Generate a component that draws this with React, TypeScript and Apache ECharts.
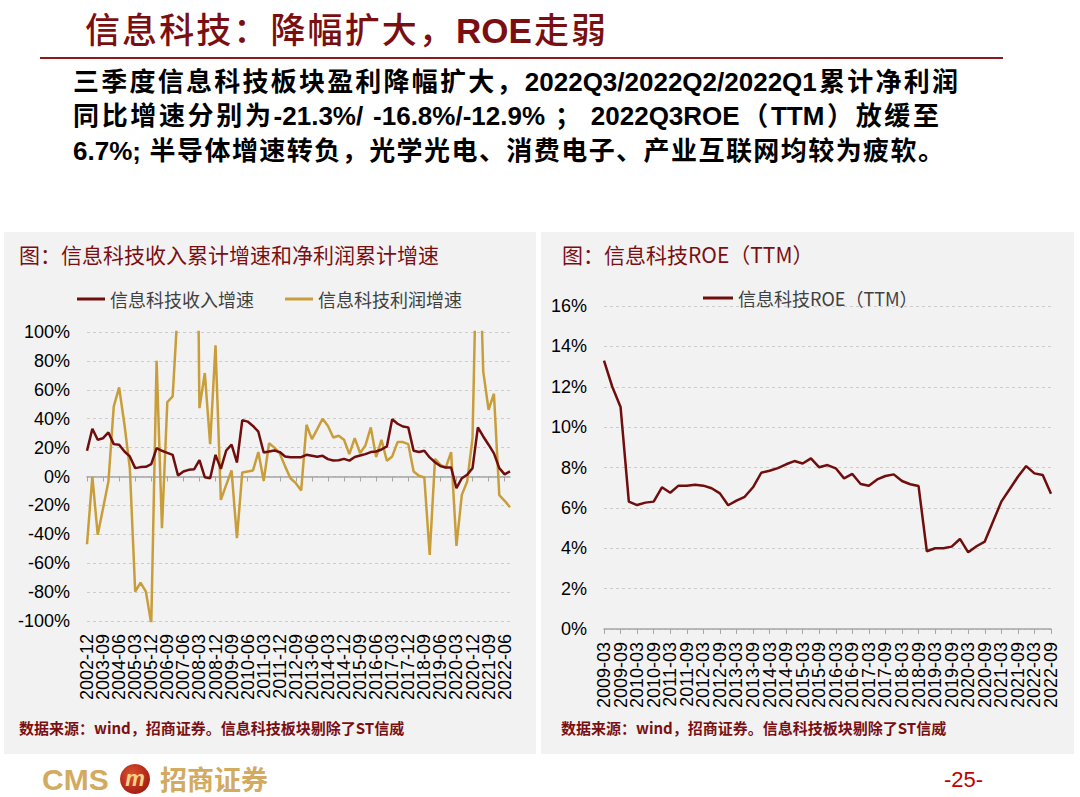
import React, { useEffect, useRef } from "react";
import * as echarts from "echarts";

// ---------- data ----------
function quarterLabels(startYear: number, startMonth: number, count: number): string[] {
  const out: string[] = [];
  let y = startYear;
  let m = startMonth;
  for (let i = 0; i < count; i++) {
    out.push(`${y}-${m < 10 ? "0" + m : m}`);
    m += 3;
    if (m > 12) {
      m -= 12;
      y += 1;
    }
  }
  return out;
}

const growthCategories = quarterLabels(2002, 12, 80);
const roeCategories = quarterLabels(2009, 3, 55);
const GROWTH_LABEL_STEP = 3;
const ROE_LABEL_STEP = 2;

const revenueGrowth = [
  17.8, 33, 25.4, 26.5, 30.5, 22.4, 22, 17.3, 13.9, 5.8,
  6.5, 6.7, 8.5, 19.6, 17.8, 16.4, 15, 0.7, 3.5, 4.6,
  5, 11.3, -0.5, -1.2, 15, 5.3, 18, 22, 9.7, 39,
  38, 35, 31, 16.6, 17.3, 18, 16.9, 13.9, 13.4, 13.4,
  13.4, 15, 14.3, 13.6, 14.3, 12, 11.1, 11.3, 12.2, 11,
  13.5, 14.5, 15.5, 16.9, 17.3, 18.7, 20.8, 39.7, 36.5, 34.6,
  34, 17.8, 16.9, 17.8, 13.2, 9.9, 7.2, 6.2, 6.2, -8,
  -1.2, 1.2, 5.8, 34, 27.7, 22, 16, 5.8, 1.5, 3.5,
];

const profitGrowth = [
  -46.9, 0, -40.4, -22, -3.5, 48.5, 61.7, 35.8, 5.8, -79.7,
  -73.4, -79.7, -102, 80, -35.8, 51.5, 55.4, 120, 180, 250,
  400, 47.3, 71.6, 22.4, 90.8, -16.2, -5.8, 4.2, -42.7, 2.8,
  3.5, 4.2, 16.9, -3, 23, 20, 16, 7, -1.2, -4.6,
  -9.7, 35.8, 25.9, 32.8, 40, 35, 27, 28.2, 25.4, 15.5,
  26.6, 16.2, 21.5, 34, 13.4, 25.4, 10.9, 13.9, 23.8, 23.8,
  22.4, 3.5, 0.5, -0.7, -54.3, 12.2, 8.1, 6.2, 16.9, -48,
  -12.7, -3.5, 26.6, 200, 72.7, 46.2, 57.3, -12.9, -16.8, -21.3,
];

const roeTTM = [
  13.3, 12.0, 11.0, 6.31, 6.14, 6.26, 6.31, 7.02, 6.75, 7.1,
  7.1, 7.15, 7.1, 6.97, 6.72, 6.13, 6.36, 6.55, 7.02, 7.74,
  7.84, 7.97, 8.16, 8.32, 8.2, 8.45, 8.01, 8.12, 7.96, 7.46,
  7.68, 7.18, 7.1, 7.41, 7.58, 7.66, 7.33, 7.17, 7.08, 3.85,
  4.0, 4.0, 4.08, 4.46, 3.8, 4.1, 4.33, 5.32, 6.31, 6.92,
  7.54, 8.07, 7.71, 7.63, 6.7,
];

const SERIES_REV = "信息科技收入增速";
const SERIES_PROFIT = "信息科技利润增速";
const SERIES_ROE = "信息科技ROE（TTM）";

const TITLE_MAIN = "信息科技：降幅扩大，";
const TITLE_ROE = "ROE";
const TITLE_END = "走弱";
const PARA_LINES = [
  "三季度信息科技板块盈利降幅扩大，2022Q3/2022Q2/2022Q1累计净利润",
  "同比增速分别为-21.3%/ -16.8%/-12.9% ； 2022Q3ROE（TTM）放缓至",
  "6.7%; 半导体增速转负，光学光电、消费电子、产业互联网均较为疲软。",
];
const LEFT_TITLE = "图：信息科技收入累计增速和净利润累计增速";
const RIGHT_TITLE = "图：信息科技ROE（TTM）";
const SOURCE_TEXT = "数据来源：wind，招商证券。信息科技板块剔除了ST信威";

// ---------- styles ----------
const DARK_RED = "#7A0F12";
const REV_COLOR = "#700D0D";
const PROFIT_COLOR = "#C99E3A";
const GOLD = "#D2AA62";
const LATIN = "'Liberation Sans', Arial, 'Noto Sans CJK SC', sans-serif";
const CJK = "'Noto Sans CJK SC', 'Liberation Sans', sans-serif";

const axisLabelStyle = {
  fontSize: 18,
  color: "#000",
  fontFamily: LATIN,
};

export default function App() {
  const ref = useRef<HTMLDivElement>(null);

  useEffect(() => {
    if (!ref.current) return;
    const chart = echarts.init(ref.current, undefined, { renderer: "svg" });

    const option: any = {
      animation: false,
      textStyle: { fontFamily: LATIN },
      graphic: [
        {
          type: "rect",
          z: -100,
          shape: { x: 4, y: 232, width: 532, height: 522 },
          style: { fill: "#F2F2F2" },
        },
        {
          type: "rect",
          z: -100,
          shape: { x: 541, y: 232, width: 533, height: 522 },
          style: { fill: "#F2F2F2" },
        },
        {
          type: "text",
          x: 19,
          y: 254,
          style: { text: LEFT_TITLE, font: `21px ${CJK}`, fill: DARK_RED, verticalAlign: "middle" },
        },
        {
          type: "text",
          x: 562,
          y: 254,
          style: { text: RIGHT_TITLE, font: `21px ${CJK}`, fill: DARK_RED, verticalAlign: "middle" },
        },
        {
          type: "text",
          x: 19,
          y: 727,
          style: { text: SOURCE_TEXT, font: `bold 15px ${CJK}`, fill: DARK_RED, verticalAlign: "middle" },
        },
        {
          type: "text",
          x: 561,
          y: 727,
          style: { text: SOURCE_TEXT, font: `bold 15px ${CJK}`, fill: DARK_RED, verticalAlign: "middle" },
        },
        {
          type: "text",
          x: 42,
          y: 779,
          style: { text: "CMS", font: `bold 30px ${LATIN}`, fill: GOLD, verticalAlign: "middle" },
        },
        {
          type: "circle",
          shape: { cx: 135, cy: 779, r: 15 },
          style: {
            fill: new echarts.graphic.RadialGradient(0.4, 0.35, 0.7, [
              { offset: 0, color: "#E0502E" },
              { offset: 1, color: "#9E1A12" },
            ]),
          },
        },
        {
          type: "text",
          x: 135,
          y: 778,
          style: {
            text: "m",
            font: `italic bold 22px ${LATIN}`,
            fill: "#F3D48A",
            align: "center",
            verticalAlign: "middle",
          },
        },
        {
          type: "text",
          x: 160,
          y: 778,
          style: { text: "招商证券", font: `bold 27px ${CJK}`, fill: GOLD, verticalAlign: "middle" },
        },
        {
          type: "text",
          x: 944,
          y: 779,
          style: { text: "-25-", font: `22px ${LATIN}`, fill: "#C00000", verticalAlign: "middle" },
        },
      ],
      legend: [
        {
          left: 77,
          top: 290,
          padding: 0,
          icon: "rect",
          itemWidth: 28,
          itemHeight: 3,
          itemGap: 31,
          data: [SERIES_REV, SERIES_PROFIT],
          textStyle: { fontSize: 18, color: "#404040", fontFamily: CJK },
        },
        {
          left: 703,
          top: 289,
          padding: 0,
          icon: "rect",
          itemWidth: 30,
          itemHeight: 3,
          data: [SERIES_ROE],
          textStyle: { fontSize: 18, color: "#404040", fontFamily: CJK },
        },
      ],
      grid: [
        { left: 87, top: 332, width: 423, height: 289, containLabel: false },
        { left: 604, top: 306, width: 447, height: 323, containLabel: false },
      ],
      xAxis: [
        {
          gridIndex: 0,
          type: "category",
          data: growthCategories,
          boundaryGap: false,
          position: "bottom",
          axisLine: { onZero: true, lineStyle: { color: "#A6A6A6", width: 1.5 } },
          axisTick: { show: true, interval: GROWTH_LABEL_STEP - 1, length: 5, lineStyle: { color: "#A6A6A6" } },
          axisLabel: { show: false },
          splitLine: { show: false },
        },
        {
          gridIndex: 0,
          type: "category",
          data: growthCategories,
          boundaryGap: false,
          position: "bottom",
          axisLine: { show: false, onZero: false },
          axisTick: { show: false },
          axisLabel: {
            ...axisLabelStyle,
            interval: 0,
            rotate: 90,
            margin: 13,
            formatter: (v: string, i: number) => (i % GROWTH_LABEL_STEP === 0 ? v : ""),
          },
          splitLine: { show: false },
        },
        {
          gridIndex: 1,
          type: "category",
          data: roeCategories,
          boundaryGap: false,
          position: "bottom",
          axisLine: { lineStyle: { color: "#A6A6A6", width: 1.5 } },
          axisTick: { show: true, interval: ROE_LABEL_STEP - 1, length: 5, lineStyle: { color: "#A6A6A6" } },
          axisLabel: {
            ...axisLabelStyle,
            interval: 0,
            rotate: 90,
            margin: 13,
            formatter: (v: string, i: number) => (i % ROE_LABEL_STEP === 0 ? v : ""),
          },
          splitLine: { show: false },
        },
      ],
      yAxis: [
        {
          gridIndex: 0,
          type: "value",
          min: -100,
          max: 100,
          interval: 20,
          axisLine: { show: false },
          axisTick: { show: false },
          axisLabel: { ...axisLabelStyle, margin: 17, formatter: "{value}%" },
          splitLine: { lineStyle: { color: "#CCCCCC", type: [3, 3] } },
        },
        {
          gridIndex: 1,
          type: "value",
          min: 0,
          max: 16,
          interval: 2,
          axisLine: { show: false },
          axisTick: { show: false },
          axisLabel: { ...axisLabelStyle, margin: 17, formatter: "{value}%" },
          splitLine: { lineStyle: { color: "#CCCCCC", type: [3, 3] } },
        },
      ],
      series: [
        {
          name: SERIES_REV,
          type: "line",
          xAxisIndex: 0,
          yAxisIndex: 0,
          data: revenueGrowth,
          symbol: "none",
          clip: true,
          z: 4,
          itemStyle: { color: REV_COLOR },
          lineStyle: { color: REV_COLOR, width: 2.5 },
        },
        {
          name: SERIES_PROFIT,
          type: "line",
          xAxisIndex: 0,
          yAxisIndex: 0,
          data: profitGrowth,
          symbol: "none",
          clip: true,
          z: 3,
          itemStyle: { color: PROFIT_COLOR },
          lineStyle: { color: PROFIT_COLOR, width: 2.5 },
        },
        {
          name: SERIES_ROE,
          type: "line",
          xAxisIndex: 2,
          yAxisIndex: 1,
          data: roeTTM,
          symbol: "none",
          clip: true,
          itemStyle: { color: REV_COLOR },
          lineStyle: { color: REV_COLOR, width: 2.5 },
        },
      ],
    };

    chart.setOption(option);
    return () => chart.dispose();
  }, []);

  const lineBase: React.CSSProperties = {
    position: "absolute",
    left: 73,
    height: 34,
    lineHeight: "34px",
    fontSize: 26,
    fontWeight: "bold",
    color: "#000",
    fontFamily: LATIN,
    textAlign: "justify",
    textAlignLast: "justify",
  };
  const paraWidths = [885, 866, 871];
  const paraTops = [65, 99, 134];

  return (
    <div
      style={{
        position: "fixed",
        left: 0,
        top: 0,
        width: 1080,
        height: 797,
        background: "#fff",
        overflow: "hidden",
      }}
    >
      <div ref={ref} style={{ position: "absolute", left: 0, top: 0, width: 1080, height: 797 }} />
      <div
        style={{
          position: "absolute",
          left: 85,
          top: 8,
          width: 521,
          height: 40,
          lineHeight: "40px",
          fontSize: 35,
          color: DARK_RED,
          fontFamily: CJK,
          fontWeight: 500,
          textAlign: "justify",
          textAlignLast: "justify",
        }}
      >
        {TITLE_MAIN}
        <span style={{ fontFamily: LATIN, fontWeight: "bold" }}>{TITLE_ROE}</span>
        {TITLE_END}
      </div>
      <div
        style={{
          position: "absolute",
          left: 40,
          top: 57,
          width: 963,
          height: 2,
          background: "#8B1A1A",
        }}
      />
      {PARA_LINES.map((t, i) => (
        <div key={i} style={{ ...lineBase, top: paraTops[i], width: paraWidths[i] }}>
          {t}
        </div>
      ))}
    </div>
  );
}
